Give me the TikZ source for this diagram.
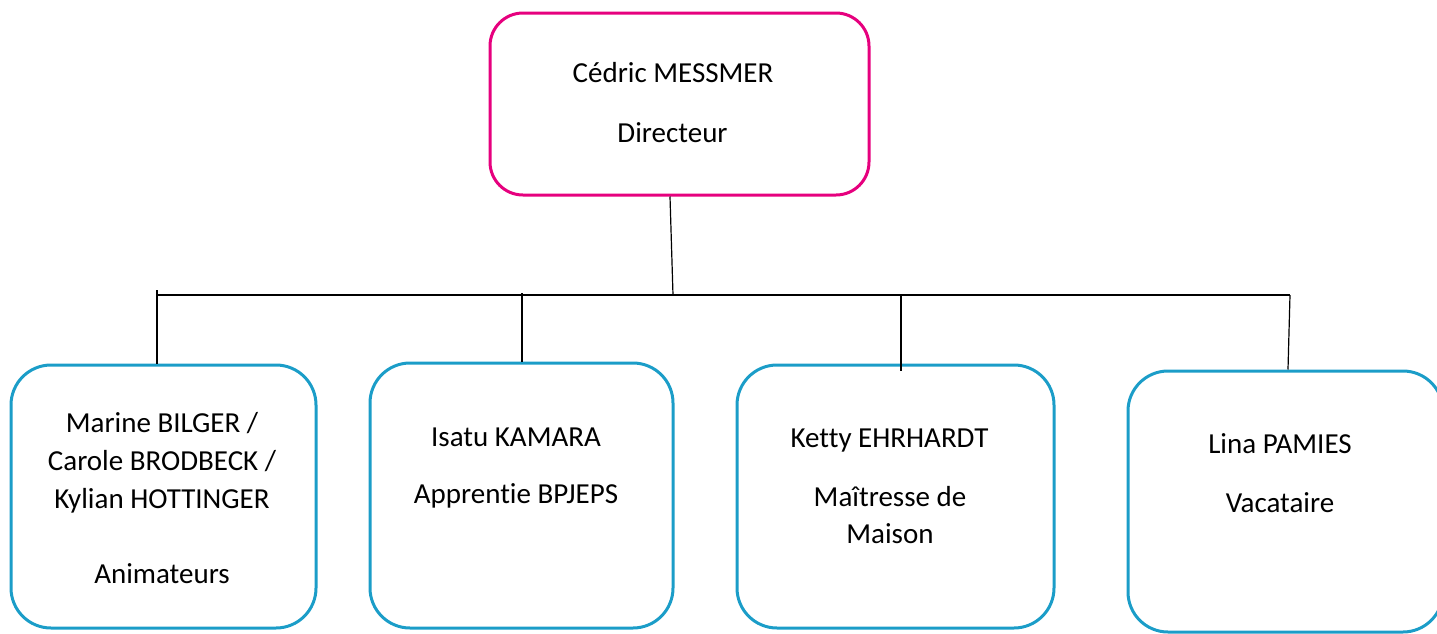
\documentclass[tikz,border=0pt]{standalone}
\usepackage{fontspec}
\setmainfont{Carlito}[RawFeature=-liga]
\definecolor{dirpink}{RGB}{230,0,126}
\definecolor{staffblue}{RGB}{27,157,200}
\tikzset{
  dirbox/.style={draw=dirpink, line width=1.5pt, rounded corners=16.5pt},
  staffbox/.style={draw=staffblue, line width=1.5pt, rounded corners=20pt},
  lbl/.style={anchor=base, inner sep=0pt, font=\fontsize{14.5}{19}\selectfont},
  link/.style={black, line width=0.6pt}
}
\begin{document}
\begin{tikzpicture}[x=0.5pt, y=-0.5pt]
        \useasboundingbox (0,0) rectangle (1437,633);

        % boxes
        \node[dirbox, minimum width=189.5pt, minimum height=91pt] (dir) at (679.5,104) {};
        \node[staffbox, minimum width=152.5pt, minimum height=131.5pt] (anim) at (163.5,496.5) {};
        \node[staffbox, minimum width=151.5pt, minimum height=132.5pt] (appr) at (521.5,495.5) {};
        \node[staffbox, minimum width=158.5pt, minimum height=131.5pt] (mait) at (895.5,496.5) {};
        \node[staffbox, minimum width=157.5pt, minimum height=130.5pt] (vaca) at (1285.5,501.5) {};

        % texts
        \node[lbl] (dirname) at (673,82) {Cédric MESSMER};
        \node[lbl] (dirrole) at (672.5,142) {Directeur};

        \node[lbl] (anim1) at (162,432) {Marine BILGER /};
        \node[lbl] (anim2) at (162,470) {Carole BRODBECK /};
        \node[lbl] (anim3) at (162,508) {Kylian HOTTINGER};
        \node[lbl] (animrole) at (162,583) {Animateurs};

        \node[lbl] (apprname) at (516,446) {Isatu KAMARA};
        \node[lbl] (apprrole) at (516,503) {Apprentie BPJEPS};

        \node[lbl] (maitname) at (889.5,447) {Ketty EHRHARDT};
        \node[lbl] (maitrole1) at (890,506) {Maîtresse de};
        \node[lbl] (maitrole2) at (890,543) {Maison};

        \node[lbl] (vacaname) at (1280,453) {Lina PAMIES};
        \node[lbl] (vacarole) at (1280,512) {Vacataire};

        % connectors
        \coordinate (hub) at (673,295);
        \coordinate (barL) at (157,295);
        \coordinate (barR) at (1290,295);
        \draw[link] ([xshift=-4.75pt]dir.south) -- (hub);
        \draw[link] (barL) -- (barR);
        \draw[link] ([xshift=-3.25pt]anim.north) -- ++(0,-74);
        \draw[link] ([xshift=0.25pt]appr.north) -- ++(0,-69);
        \draw[link] ([xshift=2.75pt,yshift=-3.5pt]mait.north) -- ++(0,-76);
        \draw[link] (barR) -- ([xshift=1.25pt]vaca.north);
    \end{tikzpicture}
\end{document}
